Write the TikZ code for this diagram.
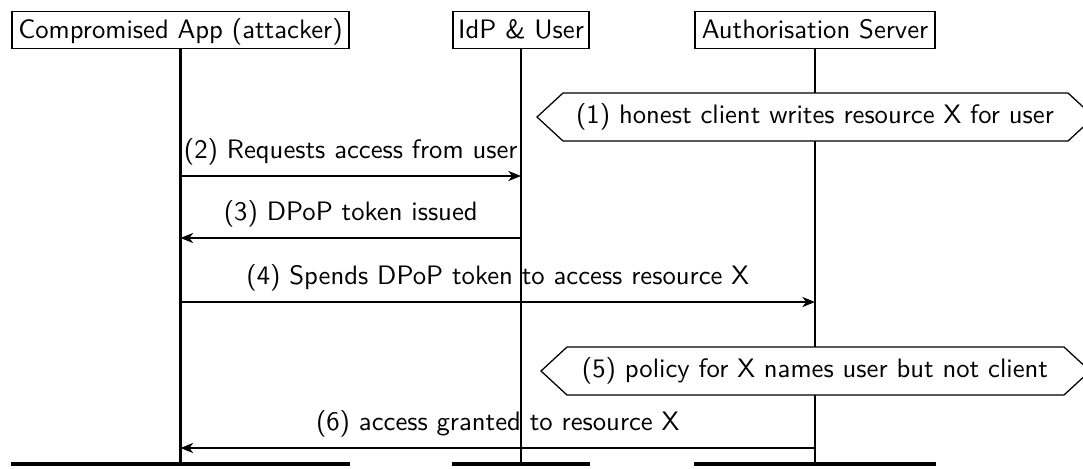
\documentclass[tikz,border=0pt]{standalone}
\usetikzlibrary{arrows.meta}
\begin{document}
\begin{tikzpicture}[x=0.3937pt,y=-0.3937pt,
  font=\sffamily\fontsize{10.5}{12.6}\selectfont,
  inst/.style={draw,line width=0.5pt,inner xsep=1pt,inner ysep=0pt,minimum height=14.5pt,text depth=0.25ex},
  life/.style={line width=0.8pt},
  endbar/.style={line width=1.6pt},
  msg/.style={line width=0.6pt,-{Stealth[length=5pt,width=4pt,inset=1.5pt]}},
  act/.style={draw,line width=0.5pt,fill=white},
  lbl/.style={above=4pt,inner sep=0pt}]
\useasboundingbox (0,0) rectangle (1083,468);
\clip (0,0) rectangle (1083,468);
% instances
\node[inst,minimum width=132.7pt] (A) at (180.5,30) {Compromised App (attacker)};
\node[inst,minimum width=53.5pt] (B) at (521,30) {IdP \& User};
\node[inst,minimum width=94.5pt] (C) at (815,30) {Authorisation Server};
% bottom
\coordinate (bot) at (0,464);
\draw[life] (A.south) -- (A.south |- bot);
\draw[life] (B.south) -- (B.south |- bot);
\draw[life] (C.south) -- (C.south |- bot);
\draw[endbar] (A.west |- bot) -- (A.east |- bot);
\draw[endbar] (B.west |- bot) -- (B.east |- bot);
\draw[endbar] (C.west |- bot) -- (C.east |- bot);
% (1)
\draw[act] (537,117) -- (563,93) -- (1068,93) -- (1094,117) -- (1068,141) -- (563,141) -- cycle;
\node (n1) at (815,117) {(1) honest client writes resource X for user};
% (2)
\coordinate (a2) at (A.south |- 0,176);
\coordinate (b2) at (B.south |- 0,176);
\draw[msg] (a2) -- node[lbl] (l2) {(2) Requests access from user} (b2);
% (3)
\coordinate (b3) at (B.south |- 0,238);
\coordinate (a3) at (A.south |- 0,238);
\draw[msg] (b3) -- node[lbl] (l3) {(3) DPoP token issued} (a3);
% (4)
\coordinate (a4) at (A.south |- 0,302);
\coordinate (c4) at (C.south |- 0,302);
\draw[msg] (a4) -- node[lbl] (l4) {(4) Spends DPoP token to access resource X} (c4);
% (5)
\draw[act] (541,371) -- (567,347) -- (1064,347) -- (1090,371) -- (1064,395) -- (567,395) -- cycle;
\node (n5) at (815,371) {(5) policy for X names user but not client};
% (6)
\coordinate (c6) at (C.south |- 0,448);
\coordinate (a6) at (A.south |- 0,448);
\draw[msg] (c6) -- node[lbl] (l6) {(6) access granted to resource X} (a6);
\end{tikzpicture}
\end{document}
